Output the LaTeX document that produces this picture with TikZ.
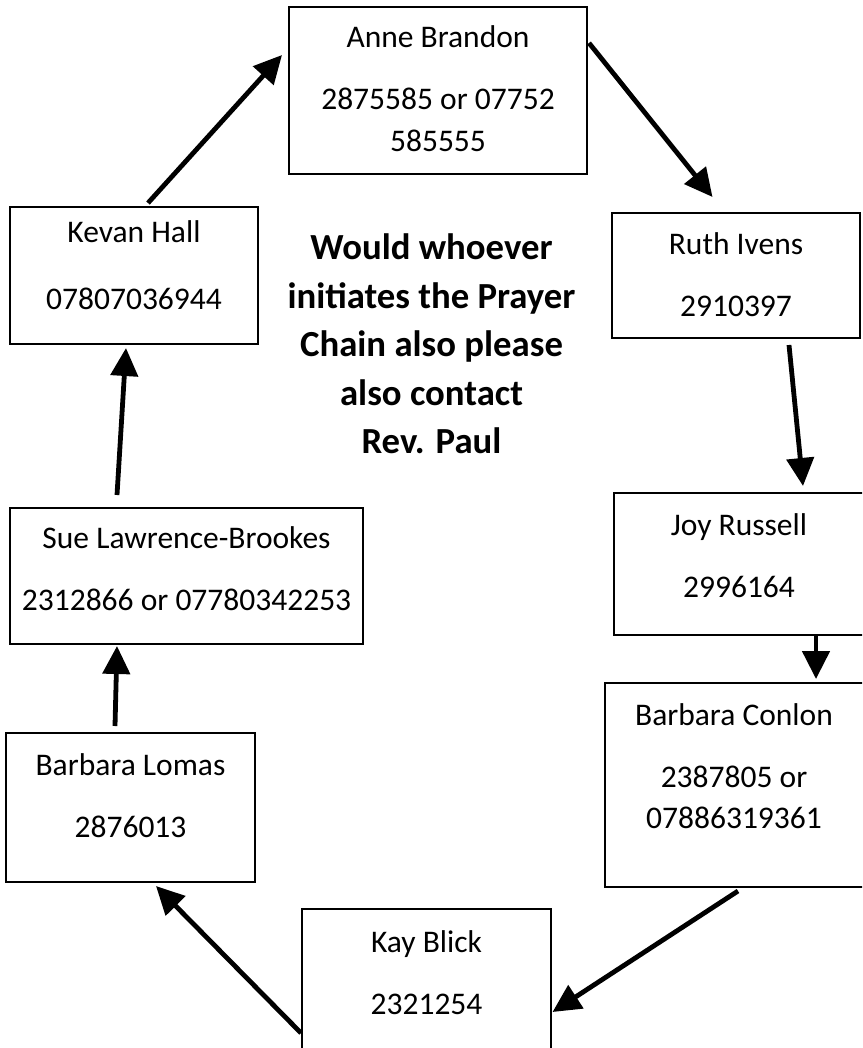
\documentclass[tikz,border=0pt]{standalone}
\usepackage{fontspec}
\setmainfont{Carlito}
\usetikzlibrary{arrows.meta}
% card contents: width, height, first baseline, lines
\newcommand{\cardtext}[4]{\parbox[c][#2][t]{#1}{\centering\rule{0pt}{#3}#4}}
\begin{document}
\begin{tikzpicture}[x=1pt,y=-1pt,
  card/.style={draw, line width=2pt, inner sep=0pt,
               font=\fontsize{31.5}{41.5}\selectfont},
  note/.style={align=center, font=\fontsize{36.75}{48.5}\selectfont\bfseries},
  flow/.style={-{Triangle[length=28pt,width=27pt]}, line width=4.8pt},
  ]
  \useasboundingbox (0,0) rectangle (862,1048);
  \clip (0,0) rectangle (862,1048);
  % ---- the chain -----------------------------------------------------------
  \node[card] (anne)   at (438,90.5)   {\cardtext{298pt}{167pt}{41pt}{Anne Brandon\\[20.5pt]2875585 or 07752\\585555}};
  \node[card] (ruth)   at (736,275.5)  {\cardtext{248pt}{125pt}{42pt}{Ruth Ivens\\[20.5pt]2910397}};
  \node[card] (joy)    at (741,564)    {\cardtext{254pt}{142pt}{42pt}{\hspace*{-4pt}Joy Russell\\[20.5pt]\hspace*{-4pt}2996164}};
  \node[card] (conlon) at (737,785)    {\cardtext{264pt}{204pt}{42pt}{\hspace*{-6pt}Barbara Conlon\\[20.5pt]\hspace*{-6pt}2387805 or\\\hspace*{-6pt}07886319361}};
  \node[card] (kay)    at (426.5,1000) {\cardtext{249pt}{182pt}{43pt}{Kay Blick\\[20.5pt]2321254}};
  \node[card] (lomas)  at (130.5,807.5){\cardtext{249pt}{149pt}{42pt}{Barbara Lomas\\[20.5pt]2876013}};
  \node[card] (sue)    at (186.5,576)  {\cardtext{353pt}{136pt}{40pt}{Sue Lawrence-Brookes\\[20.5pt]2312866 or 07780342253}};
  \node[card] (kevan)  at (134,275.5)  {\cardtext{248pt}{137pt}{36pt}{Kevan Hall\\[25pt]07807036944}};
  % ---- request in the middle -----------------------------------------------
  \node[note] (ask) at (431.5,344) {Would whoever\\initiates the Prayer\\Chain also please\\also contact\\Rev. Paul};
  % ---- arrows round the circle ---------------------------------------------
  \draw[flow] ([xshift=14pt,yshift=3pt]kevan.north) -- ([xshift=-6pt,yshift=35.5pt]anne.west);
  \draw[flow] ([xshift=1pt,yshift=47.5pt]anne.east) -- ([xshift=-23.5pt,yshift=15pt]ruth.north);
  \draw[flow] ([xshift=53pt,yshift=-6pt]ruth.south) -- ([xshift=62pt,yshift=6pt]joy.north);
  \draw[flow] ([xshift=75pt]joy.south) -- ([xshift=79pt,yshift=3pt]conlon.north);
  \draw[flow] ([xshift=1pt,yshift=-3pt]conlon.south) -- ([xshift=0.5pt,yshift=-12pt]kay.east);
  \draw[flow] ([yshift=-33pt]kay.west) -- ([xshift=25.5pt,yshift=-3pt]lomas.south);
  \draw[flow] ([xshift=-15.5pt,yshift=6pt]lomas.north) -- ([xshift=-69.5pt,yshift=-1pt]sue.south);
  \draw[flow] ([xshift=-69.5pt,yshift=12pt]sue.north) -- ([xshift=-8pt,yshift=-3pt]kevan.south);
\end{tikzpicture}
\end{document}
